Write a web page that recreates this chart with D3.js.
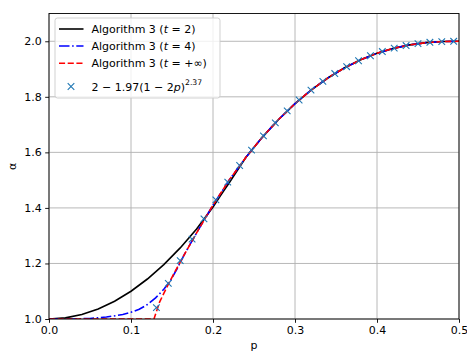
<!DOCTYPE html>
<html>
<head>
<meta charset="utf-8">
<script src="https://cdn.jsdelivr.net/npm/d3@7"></script>
<style>
  body { margin: 0; background: #fff; }
  svg text { font-family: "DejaVu Sans", sans-serif; }
</style>
</head>
<body>
<div id="chart"></div>
<script>
// curve t = 2
const pT2 = [0, 0.02, 0.04, 0.06, 0.08, 0.1, 0.12, 0.14, 0.16, 0.18, 0.2, 0.21, 0.22, 0.24, 0.26, 0.28, 0.3, 0.32, 0.34, 0.36, 0.38, 0.4, 0.42, 0.44, 0.46, 0.48, 0.5];
const aT2 = [1.0, 1.004, 1.016, 1.036, 1.064, 1.1, 1.144, 1.196, 1.256, 1.324, 1.403, 1.448, 1.4915, 1.5817, 1.6541, 1.7185, 1.7754, 1.8251, 1.8677, 1.9036, 1.9331, 1.9566, 1.9744, 1.9871, 1.9951, 1.999, 2.0];

// curve t = 4
const pT4 = [0, 0.03, 0.05, 0.07, 0.09, 0.1, 0.11, 0.12, 0.13, 0.14, 0.148, 0.156, 0.165, 0.18, 0.2, 0.22, 0.24, 0.26, 0.28, 0.3, 0.32, 0.34, 0.36, 0.38, 0.4, 0.42, 0.44, 0.46, 0.48, 0.5];
const aT4 = [1.0, 1.0, 1.002, 1.007, 1.016, 1.024, 1.035, 1.052, 1.076, 1.107, 1.137, 1.18, 1.232, 1.31, 1.41, 1.5015, 1.5817, 1.6541, 1.7185, 1.7754, 1.8251, 1.8677, 1.9036, 1.9331, 1.9566, 1.9744, 1.9871, 1.9951, 1.999, 2.0];

// curve t = +inf
const pInf = [0, 0.128, 0.135, 0.145, 0.155, 0.165, 0.18, 0.2, 0.22, 0.24, 0.26, 0.28, 0.3, 0.32, 0.34, 0.36, 0.38, 0.4, 0.42, 0.44, 0.46, 0.48, 0.5];
const aInf = [1.0, 1.0, 1.062, 1.122, 1.178, 1.232, 1.31, 1.41, 1.5015, 1.5817, 1.6541, 1.7185, 1.7754, 1.8251, 1.8677, 1.9036, 1.9331, 1.9566, 1.9744, 1.9871, 1.9951, 1.999, 2.0];

// fitted points 2 - 1.97(1-2p)^2.37
const pFit = [0.131, 0.1455, 0.16, 0.1745, 0.189, 0.2035, 0.218, 0.2325, 0.247, 0.2615, 0.276, 0.2905, 0.305, 0.3195, 0.334, 0.3485, 0.363, 0.3775, 0.392, 0.4065, 0.421, 0.4355, 0.45, 0.4645, 0.479, 0.4935];
const aFit = [1.0411, 1.1281, 1.2102, 1.2877, 1.3606, 1.429, 1.493, 1.5526, 1.608, 1.6592, 1.7063, 1.7494, 1.7885, 1.8239, 1.8556, 1.8838, 1.9084, 1.9298, 1.9479, 1.963, 1.9752, 1.9846, 1.9916, 1.9963, 1.9989, 1.9999];

const xTicks = [0, 0.1, 0.2, 0.3, 0.4, 0.5];
const yTicks = [1.0, 1.2, 1.4, 1.6, 1.8, 2.0];

const width = 467, height = 352;
const margin = {top: 13.5, right: 8, bottom: 33, left: 49};
const iw = width - margin.left - margin.right;
const ih = height - margin.top - margin.bottom;
const fs = 11;

const xScale = d3.scaleLinear().domain([0, 0.5]).range([0, iw]);
const yScale = d3.scaleLinear().domain([1.0, 2.1]).range([ih, 0]);

const svg = d3.select('#chart')
  .append('svg')
    .attr('width', width)
    .attr('height', height);

const g = svg.append('g')
  .attr('transform', `translate(${margin.left}, ${margin.top})`);

// grid
g.append('g')
  .selectAll('line')
  .data(xTicks)
  .join('line')
    .attr('x1', (d) => xScale(d)).attr('x2', (d) => xScale(d))
    .attr('y1', 0).attr('y2', ih)
    .attr('stroke', '#b0b0b0').attr('stroke-width', 0.9);

g.append('g')
  .selectAll('line')
  .data(yTicks)
  .join('line')
    .attr('x1', 0).attr('x2', iw)
    .attr('y1', (d) => yScale(d)).attr('y2', (d) => yScale(d))
    .attr('stroke', '#b0b0b0').attr('stroke-width', 0.9);

const defs = svg.append('defs');
defs.append('clipPath').attr('id', 'clip')
  .append('rect').attr('width', iw).attr('height', ih);

const plot = g.append('g').attr('clip-path', 'url(#clip)');

const line = d3.line()
  .x((d) => xScale(d[0]))
  .y((d) => yScale(d[1]));

const series = [
  {p: pT2, a: aT2, color: '#000000', dash: null},
  {p: pT4, a: aT4, color: '#0000ff', dash: '10.5,2.6,1.6,2.6'},
  {p: pInf, a: aInf, color: '#ff0000', dash: '6.1,2.6'}
];

series.forEach((s) => {
  plot.append('path')
    .datum(s.p.map((p, i) => [p, s.a[i]]))
    .attr('fill', 'none')
    .attr('stroke', s.color)
    .attr('stroke-width', 1.6)
    .attr('stroke-dasharray', s.dash)
    .attr('d', line);
});

const xMark = (sel, r) => sel
  .attr('d', `M${-r},${-r}L${r},${r}M${-r},${r}L${r},${-r}`)
  .attr('fill', 'none')
  .attr('stroke', '#1f77b4')
  .attr('stroke-width', 1.1);

plot.append('g')
  .selectAll('path')
  .data(pFit.map((p, i) => [p, aFit[i]]))
  .join('path')
    .attr('transform', (d) => `translate(${xScale(d[0])}, ${yScale(d[1])})`)
    .call(xMark, 3.3);

// axes
const xAxis = g.append('g')
  .attr('transform', `translate(0, ${ih})`)
  .call(d3.axisBottom(xScale).tickValues(xTicks).tickFormat(d3.format('.1f')).tickSize(3.8).tickPadding(3.5));

const yAxis = g.append('g')
  .call(d3.axisLeft(yScale).tickValues(yTicks).tickFormat(d3.format('.1f')).tickSize(3.8).tickPadding(3.5));

[xAxis, yAxis].forEach((ax) => {
  ax.select('.domain').remove();
  ax.selectAll('line').attr('stroke', '#000').attr('stroke-width', 0.9);
  ax.selectAll('text').attr('font-size', fs).attr('fill', '#000')
    .style('font-family', '"DejaVu Sans", sans-serif');
});

// spines
g.append('rect')
  .attr('width', iw).attr('height', ih)
  .attr('fill', 'none').attr('stroke', '#000').attr('stroke-width', 0.9);

// axis labels
svg.append('text')
  .attr('x', margin.left + iw / 2).attr('y', height - 3)
  .attr('text-anchor', 'middle').attr('font-size', fs)
  .text('p');

svg.append('text')
  .attr('transform', `translate(16, ${margin.top + ih / 2}) rotate(-90)`)
  .attr('text-anchor', 'middle').attr('font-size', fs)
  .text('α');

// legend
const legend = svg.append('g').attr('transform', 'translate(55, 18)');
legend.append('rect')
  .attr('width', 165).attr('height', 80).attr('rx', 2.5)
  .attr('fill', 'rgba(255,255,255,0.8)').attr('stroke', '#cccccc').attr('stroke-width', 0.9);

const rowsY = [11, 28, 45.3, 68.5];

const addLabel = (y, parts) => {
  const t = legend.append('text')
    .attr('x', 36.5).attr('y', y + 4).attr('font-size', fs).attr('fill', '#000');
  parts.forEach((pt) => {
    const ts = t.append('tspan').text(pt.s);
    if (pt.i) ts.attr('font-style', 'italic');
    if (pt.sup) ts.attr('font-size', 7.7).attr('dy', -5.5);
  });
};

series.forEach((s, i) => {
  legend.append('line')
    .attr('x1', 4).attr('x2', 28.5)
    .attr('y1', rowsY[i]).attr('y2', rowsY[i])
    .attr('stroke', s.color).attr('stroke-width', 1.6)
    .attr('stroke-dasharray', s.dash);
});

addLabel(rowsY[0], [{s: 'Algorithm 3 ('}, {s: 't', i: true}, {s: ' = 2)'}]);
addLabel(rowsY[1], [{s: 'Algorithm 3 ('}, {s: 't', i: true}, {s: ' = 4)'}]);
addLabel(rowsY[2], [{s: 'Algorithm 3 ('}, {s: 't', i: true}, {s: ' =  +∞)'}]);
addLabel(rowsY[3], [{s: '2 − 1.97(1 − 2'}, {s: 'p', i: true}, {s: ')'}, {s: '2.37', sup: true}]);

legend.append('path')
  .attr('transform', `translate(16, ${rowsY[3]})`)
  .call(xMark, 3.3);
</script>
</body>
</html>
